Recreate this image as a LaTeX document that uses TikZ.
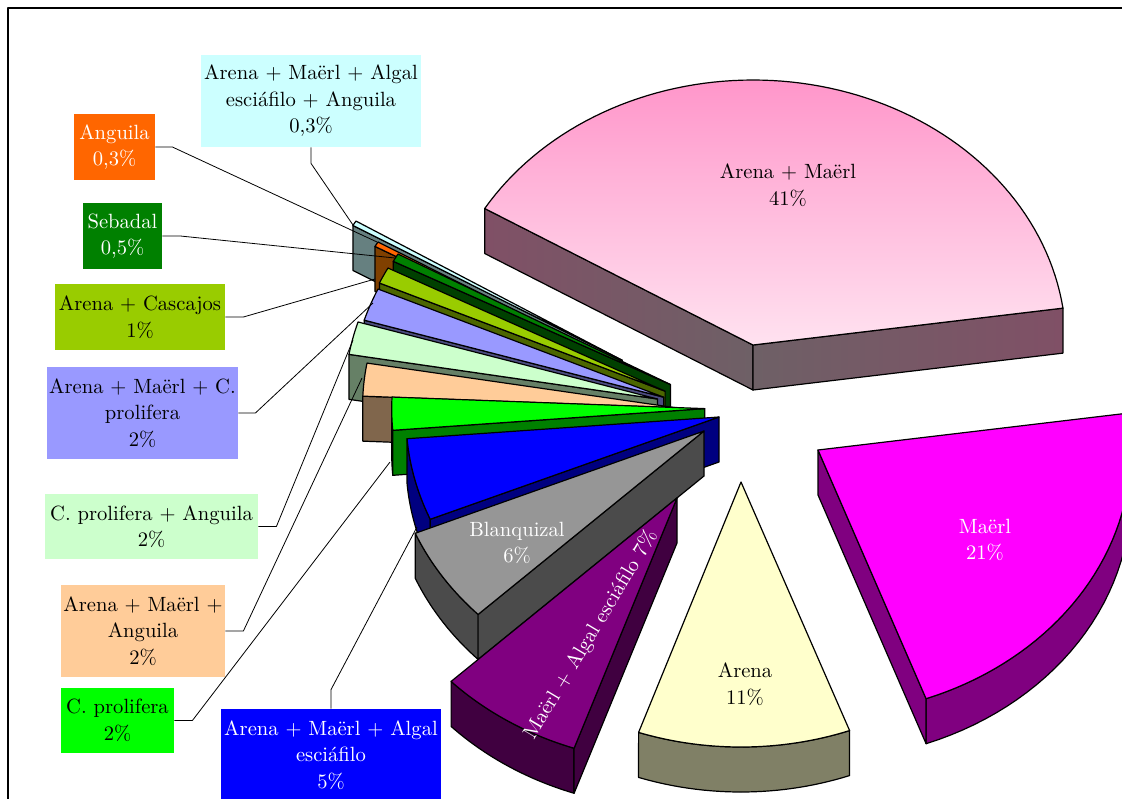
\documentclass[tikz,border=0pt]{standalone}
\usepackage{fontspec}
\definecolor{cCyanT}{HTML}{CCFFFF}\definecolor{cCyanS}{HTML}{668080}
\definecolor{cOrT}{HTML}{FF6600}\definecolor{cOrS}{HTML}{804000}
\definecolor{cSebT}{HTML}{008000}\definecolor{cSebS}{HTML}{004000}
\definecolor{cCasT}{HTML}{99CC00}\definecolor{cCasS}{HTML}{4C6600}
\definecolor{cLavT}{HTML}{9999FF}\definecolor{cLavS}{HTML}{4C4C80}
\definecolor{cPgT}{HTML}{CCFFCC}\definecolor{cPgS}{HTML}{668066}
\definecolor{cPeT}{HTML}{FFCC99}\definecolor{cPeS}{HTML}{80664C}
\definecolor{cBgT}{HTML}{00FF00}\definecolor{cBgS}{HTML}{008000}
\definecolor{cBlT}{HTML}{0000FF}\definecolor{cBlS}{HTML}{000080}
\definecolor{cGrT}{HTML}{969696}\definecolor{cGrS}{HTML}{4B4B4B}
\definecolor{cPuT}{HTML}{800080}\definecolor{cPuS}{HTML}{400040}
\definecolor{cYeT}{HTML}{FFFFCC}\definecolor{cYeS}{HTML}{808066}
\definecolor{cMaT}{HTML}{FF00FF}\definecolor{cMaS}{HTML}{800080}
\definecolor{cPiTop}{RGB}{255,150,202}\definecolor{cPiBot}{RGB}{255,226,240}
\definecolor{cPiSA}{RGB}{128,80,102}\definecolor{cPiSB}{RGB}{110,96,102}
% top face: apex x, apex y, t1, t2, colour
\newcommand{\SliceTop}[5]{\path[edge,fill=#5] (#1,#2) -- plot[domain=#3:#4,samples=40] ({#1+313*cos(\x)},{#2+265*sin(\x)}) -- cycle;}
% radial side face below the edge at angle t
\newcommand{\SliceRad}[4]{\path[edge,fill=#4] (#1,#2) -- ({#1+313*cos(#3)},{#2+265*sin(#3)}) -- ({#1+313*cos(#3)},{#2+265*sin(#3)+45}) -- (#1,{#2+45}) -- cycle;}
% outer curved band between angles
\newcommand{\SliceBand}[5]{\path[edge,fill=#5] plot[domain=#3:#4,samples=30] ({#1+313*cos(\x)},{#2+265*sin(\x)}) -- plot[domain=#4:#3,samples=30] ({#1+313*cos(\x)},{#2+265*sin(\x)+45}) -- cycle;}
\begin{document}
\begin{tikzpicture}[x=0.5pt,y=-0.5pt,line join=round,
  edge/.style={draw=black,line width=0.6pt},
  conn/.style={draw=black,line width=0.4pt},
  lab/.style={inner sep=0pt,align=center,font=\fontsize{10.3}{13.25}\selectfont}]
\useasboundingbox (0,0) rectangle (1122,798);
\fill[white] (0,0) rectangle (1122,798);
\draw[line width=1pt] (8,820) -- (8,7.5) -- (1140,7.5);
% ---- Arena + Maerl (41%)
\path[edge,left color=cPiSA,right color=cPiSB] ({753+313*cos(211)},{345+265*sin(211)}) -- (753,345) -- (753,390) -- ({753+313*cos(211)},{390+265*sin(211)}) -- cycle;
\path[edge,left color=cPiSB,right color=cPiSA] (753,345) -- ({753+313*cos(-8)},{345+265*sin(-8)}) -- ({753+313*cos(-8)},{390+265*sin(-8)}) -- (753,390) -- cycle;
\path[edge,top color=cPiTop,bottom color=cPiBot] (753,345) -- plot[domain=-149:-8,samples=80] ({753+313*cos(\x)},{345+265*sin(\x)}) -- cycle;
% ---- small slices, back to front
\SliceRad{622.3}{360.3}{210.6}{cCyanS}\SliceTop{622.3}{360.3}{210.6}{211.7}{cCyanT}
\SliceRad{647.4}{376.9}{209.5}{cOrS}\SliceTop{647.4}{376.9}{209.5}{210.6}{cOrT}
\SliceRad{670.4}{384.5}{207.7}{cSebS}\SliceTop{670.4}{384.5}{207.7}{209.5}{cSebT}
\SliceRad{665.1}{391.2}{204.1}{cCasS}\SliceTop{665.1}{391.2}{204.1}{207.7}{cCasT}
\SliceRad{663.7}{397.2}{196.9}{cLavS}\SliceTop{663.7}{397.2}{196.9}{204.1}{cLavT}
\SliceRad{657.5}{399}{189.7}{cPgS}\SliceTop{657.5}{399}{189.7}{196.9}{cPgT}
\SliceRad{675.5}{407.7}{182.5}{cPeS}\SliceTop{675.5}{407.7}{182.5}{189.7}{cPeT}
\SliceBand{704.7}{408.6}{175.3}{180}{cBgS}\SliceRad{704.7}{408.6}{175.3}{cBgS}\SliceTop{704.7}{408.6}{175.3}{182.5}{cBgT}
% ---- blue 5%
\SliceBand{719}{417}{157.3}{175.3}{cBlS}\SliceRad{719}{417}{157.3}{cBlS}\SliceTop{719}{417}{157.3}{175.3}{cBlT}
% ---- Blanquizal 6%
\SliceBand{704}{431}{136.2}{157.3}{cGrS}\SliceRad{704}{431}{136.2}{cGrS}\SliceTop{704}{431}{136.2}{157.3}{cGrT}
% ---- Maerl + Algal esciafilo 7%
\SliceBand{677}{498}{109.2}{136.2}{cPuS}\SliceRad{677}{498}{109.2}{cPuS}\SliceTop{677}{498}{109.2}{136.2}{cPuT}
% ---- Arena 11%
\SliceBand{741}{482}{69.7}{109.1}{cYeS}\SliceTop{741}{482}{69.7}{109.1}{cYeT}
% ---- Maerl 21%
\SliceBand{818}{450}{0}{69.8}{cMaS}\SliceRad{818}{450}{69.8}{cMaS}\SliceTop{818}{450}{-8}{69.8}{cMaT}
% ---- labels inside slices
\node[lab] (tPi) at (788,185) {Arena + Maërl\\41\%};
\node[lab,text=white] (tMa) at (985,540) {Maërl\\21\%};
\node[lab] (tYe) at (745,684) {Arena\\11\%};
\node[lab,text=white] (tGr) at (517,543) {Blanquizal\\6\%};
\node[lab,text=white,rotate=59] (tPu) at (591,635) {Maërl + Algal esciáfilo 7\%};
% ---- callout boxes
\node[lab,fill=cCyanT,minimum width=110pt,minimum height=46pt] (l1) at (311,101) {Arena + Maërl + Algal\\esciáfilo + Anguila\\0,3\%};
\node[lab,fill=cOrT,text=white,minimum width=40.5pt,minimum height=33pt] (l2) at (114.5,147) {Anguila\\0,3\%};
\node[lab,fill=cSebT,text=white,minimum width=39.5pt,minimum height=33pt] (l3) at (122.5,236) {Sebadal\\0,5\%};
\node[lab,fill=cCasT,minimum width=85pt,minimum height=33pt] (l4) at (140,317) {Arena + Cascajos\\1\%};
\node[lab,fill=cLavT,minimum width=95.5pt,minimum height=46pt] (l5) at (142.5,413) {Arena + Maërl + C.\\prolifera\\2\%};
\node[lab,fill=cPgT,minimum width=106.5pt,minimum height=32.5pt] (l6) at (151.5,526.5) {C. prolifera + Anguila\\2\%};
\node[lab,fill=cPeT,minimum width=82pt,minimum height=46pt] (l7) at (143,631) {Arena + Maërl +\\Anguila\\2\%};
\node[lab,fill=cBgT,minimum width=56.5pt,minimum height=32.5pt] (l8) at (117.5,720.5) {C. prolifera\\2\%};
\node[lab,fill=cBlT,text=white,minimum width=110pt,minimum height=46pt] (l9) at (331,755) {Arena + Maërl + Algal\\esciáfilo\\5\%};
% ---- connector ends
\coordinate (e1) at (353,225);
\coordinate (e2) at (377,242);
\coordinate (e3) at (395,258);
\coordinate (e4) at (375,279);
\coordinate (e5) at (373,303);
\coordinate (e6) at (353,340);
\coordinate (e7) at (362,378);
\coordinate (e8) at (390,462);
\coordinate (e9) at (417,527);
\draw[conn] (l1.south) -- ++(0,16) -- (e1);
\draw[conn] (l2.east) -- ++(17,0) -- (e2);
\draw[conn] (l3.east) -- ++(18,0) -- (e3);
\draw[conn] (l4.east) -- ++(18,0) -- (e4);
\draw[conn] (l5.east) -- ++(17,0) -- (e5);
\draw[conn] (l6.east) -- ++(18,0) -- (e6);
\draw[conn] (l7.east) -- ++(18,0) -- (e7);
\draw[conn] (l8.east) -- ++(18,0) -- (e8);
\draw[conn] (l9.north) -- ++(0,-19) -- (e9);
\end{tikzpicture}
\end{document}
